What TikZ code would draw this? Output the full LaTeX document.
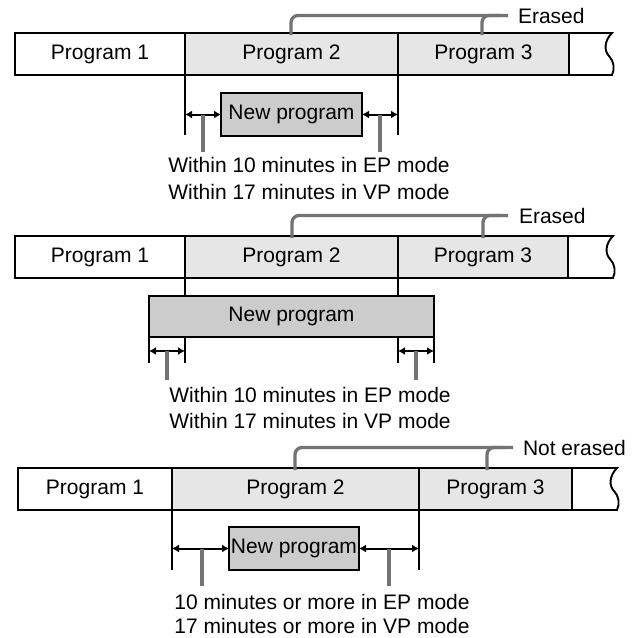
\documentclass[tikz,border=0pt]{standalone}
\usepackage{fontspec}
\setmainfont{Liberation Sans}
\usetikzlibrary{arrows.meta,calc}
\definecolor{lightfill}{HTML}{E6E6E6}
\definecolor{newfill}{HTML}{CCCCCC}
\definecolor{ptrgray}{HTML}{737373}
\tikzset{
  seg/.style={draw, line width=1.9pt, minimum height=42pt, inner sep=0pt, outer sep=0pt, anchor=west},
  newbox/.style={draw, line width=1.9pt, fill=newfill, inner sep=0pt, outer sep=0pt},
  ext/.style={line width=1.3pt},
  dim/.style={line width=2pt, {Latex[length=7pt,width=8pt]}-{Latex[length=7pt,width=8pt]}},
  ptr/.style={ptrgray, line width=3.3pt},
  brace/.style={ptrgray, line width=3.3pt, rounded corners=7pt},
  lbl/.style={anchor=base, inner sep=0pt, outer sep=0pt},
  stripend/.style={line width=1.9pt},
}
\begin{document}
\begin{tikzpicture}[x=1pt,y=-1pt,font=\fontsize{21}{25}\selectfont]
\useasboundingbox (0,0) rectangle (641,638);

% ---------------- Panel 1 ----------------
\node[seg, minimum width=170pt] (a1) at (15,54) {Program 1};
\node[seg, minimum width=213pt, fill=lightfill] (a2) at (185,54) {Program 2};
\node[seg, minimum width=171pt, fill=lightfill] (a3) at (398,54) {Program 3};
\coordinate (a4t) at (612,33);
\coordinate (a4b) at (612,75);
\draw[stripend] (a3.north east) -- (a4t) .. controls +(-8,8) and +(-5,-5) .. (609,56)
  .. controls +(5,5) and +(3,-6) .. (a4b) -- (a3.south east);
\node[newbox, minimum width=141pt, minimum height=43pt] (n1) at (291.5,114.5) {New program};
\coordinate (e1l) at (185,135);
\coordinate (e1r) at (398,135);
\draw[ext] (a2.south west) -- (e1l);
\draw[ext] (a3.south west) -- (e1r);
\draw[dim] (e1l |- n1.west) -- (n1.west);
\draw[dim] (n1.east) -- (e1r |- n1.east);
\coordinate (q1l) at (203,152);
\coordinate (q1r) at (380,152);
\draw[ptr] (q1l |- n1.west) -- (q1l);
\draw[ptr] (q1r |- n1.east) -- (q1r);
\node[lbl] (t1a) at (309,172) {Within 10 minutes in EP mode};
\node[lbl] (t1b) at (309,199) {Within 17 minutes in VP mode};
\node[lbl, anchor=base west] (r1) at (518,23) {Erased};
\coordinate (k1l) at (291,35);
\coordinate (k1r) at (482,35);
\draw[brace] (k1l) |- ([xshift=-10pt]r1.west);
\draw[brace] (k1r) |- ([xshift=-18pt]r1.west);

% ---------------- Panel 2 ----------------
\node[seg, minimum width=170pt] (b1) at (15,257) {Program 1};
\node[seg, minimum width=213pt, fill=lightfill] (b2) at (185,257) {Program 2};
\node[seg, minimum width=170pt, fill=lightfill] (b3) at (398,257) {Program 3};
\coordinate (b4t) at (613,236);
\coordinate (b4b) at (613,278);
\draw[stripend] (b3.north east) -- (b4t) .. controls +(-8,8) and +(-5,-5) .. (610,259)
  .. controls +(5,5) and +(3,-6) .. (b4b) -- (b3.south east);
\node[newbox, minimum width=285pt, minimum height=41pt] (n2) at (291.5,316.5) {New program};
\draw[ext] (b2.south west) -- (b2.south west |- n2.north);
\draw[ext] (b3.south west) -- (b3.south west |- n2.north);
\coordinate (e2a) at (149,363);
\coordinate (e2b) at (185,363);
\coordinate (e2c) at (398,363);
\coordinate (e2d) at (434,363);
\draw[ext] (n2.south west) -- (e2a);
\draw[ext] (e2b |- n2.south) -- (e2b);
\draw[ext] (e2c |- n2.south) -- (e2c);
\draw[ext] (n2.south east) -- (e2d);
\coordinate (m2l) at (149,351);
\coordinate (m2r) at (434,351);
\draw[dim] (m2l) -- (e2b |- m2l);
\draw[dim] (e2c |- m2r) -- (m2r);
\coordinate (q2l) at (167,380);
\coordinate (q2r) at (416,380);
\draw[ptr] (q2l |- m2l) -- (q2l);
\draw[ptr] (q2r |- m2r) -- (q2r);
\node[lbl] (t2a) at (310,402) {Within 10 minutes in EP mode};
\node[lbl] (t2b) at (310,428) {Within 17 minutes in VP mode};
\node[lbl, anchor=base west] (r2) at (519,223) {Erased};
\coordinate (k2l) at (292,238);
\coordinate (k2r) at (483,238);
\draw[brace] (k2l) |- ([xshift=-11pt]r2.west);
\draw[brace] (k2r) |- ([xshift=-18pt]r2.west);

% ---------------- Panel 3 ----------------
\node[seg, minimum width=154pt] (c1) at (18,489) {Program 1};
\node[seg, minimum width=247pt, fill=lightfill] (c2) at (172,489) {Program 2};
\node[seg, minimum width=153pt, fill=lightfill] (c3) at (419,489) {Program 3};
\coordinate (c4t) at (617,468);
\coordinate (c4b) at (617,510);
\draw[stripend] (c3.north east) -- (c4t) .. controls +(-8,8) and +(-5,-5) .. (614,491)
  .. controls +(5,5) and +(3,-6) .. (c4b) -- (c3.south east);
\node[newbox, minimum width=130pt, minimum height=43pt] (n3) at (294,548.5) {New program};
\coordinate (e3l) at (172,570);
\coordinate (e3r) at (419,570);
\draw[ext] (c2.south west) -- (e3l);
\draw[ext] (c3.south west) -- (e3r);
\draw[dim] (e3l |- n3.west) -- (n3.west);
\draw[dim] (n3.east) -- (e3r |- n3.east);
\coordinate (q3l) at (202,586);
\coordinate (q3r) at (389,586);
\draw[ptr] (q3l |- n3.west) -- (q3l);
\draw[ptr] (q3r |- n3.east) -- (q3r);
\node[lbl] (t3a) at (322,609) {10 minutes or more in EP mode};
\node[lbl] (t3b) at (322,633) {17 minutes or more in VP mode};
\node[lbl, anchor=base west] (r3) at (523,455) {Not erased};
\coordinate (k3l) at (295,470);
\coordinate (k3r) at (487,470);
\draw[brace] (k3l) |- ([xshift=-10pt]r3.west);
\draw[brace] (k3r) |- ([xshift=-18pt]r3.west);
\end{tikzpicture}
\end{document}
